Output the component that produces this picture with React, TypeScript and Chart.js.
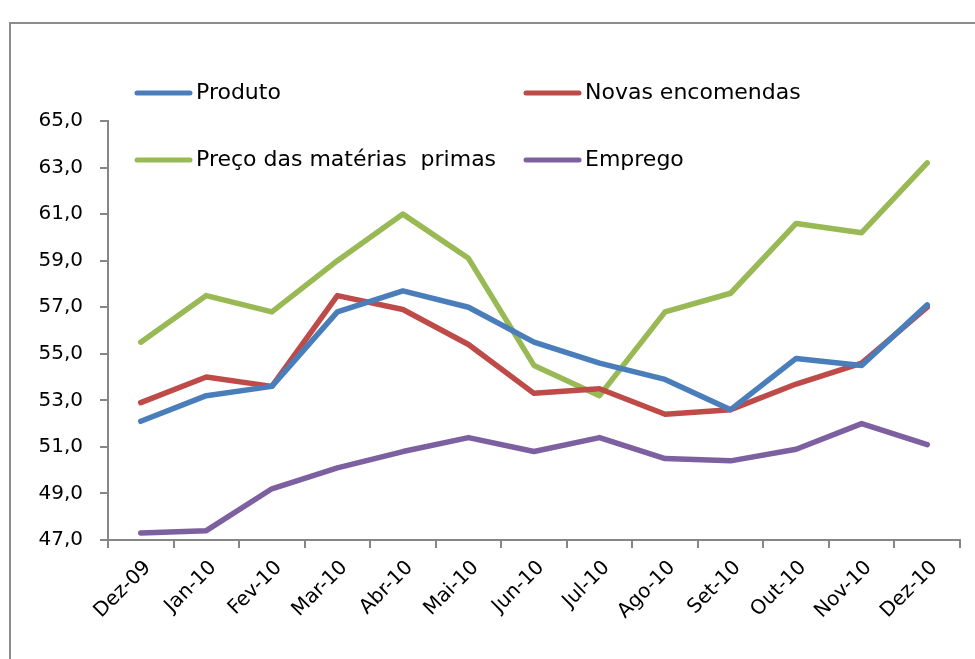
import React, { useEffect, useRef } from "react";
import { Chart, registerables } from "chart.js";

Chart.register(...registerables);

const categories = ["Dez-09", "Jan-10", "Fev-10", "Mar-10", "Abr-10", "Mai-10", "Jun-10", "Jul-10", "Ago-10", "Set-10", "Out-10", "Nov-10", "Dez-10"];
const produto = [52.1, 53.2, 53.6, 56.8, 57.7, 57.0, 55.5, 54.6, 53.9, 52.6, 54.8, 54.5, 57.1];
const novasEncomendas = [52.9, 54.0, 53.6, 57.5, 56.9, 55.4, 53.3, 53.5, 52.4, 52.6, 53.7, 54.6, 57.0];
const precoMaterias = [55.5, 57.5, 56.8, 59.0, 61.0, 59.1, 54.5, 53.2, 56.8, 57.6, 60.6, 60.2, 63.2];
const emprego = [47.3, 47.4, 49.2, 50.1, 50.8, 51.4, 50.8, 51.4, 50.5, 50.4, 50.9, 52.0, 51.1];
const seriesLabels = ["Produto", "Novas encomendas", "Preço das matérias  primas", "Emprego"];
const seriesColors = ["#4A7EBB", "#BE4B48", "#98B954", "#7D60A0"];
const yMin = 47;
const yMax = 65;
const yStep = 2;

const FONT = "'DejaVu Sans', sans-serif";

const framePlugin = {
  id: "frame",
  beforeDraw(chart: any) {
    const ctx = chart.ctx;
    ctx.save();
    ctx.fillStyle = "#ffffff";
    ctx.fillRect(0, 0, chart.width, chart.height);
    ctx.strokeStyle = "#8c8c8c";
    ctx.lineWidth = 2;
    ctx.beginPath();
    ctx.moveTo(10, chart.height + 5);
    ctx.lineTo(10, 23);
    ctx.lineTo(chart.width + 5, 23);
    ctx.stroke();
    ctx.restore();
  },
};

const legendPlugin = {
  id: "customLegend",
  afterDraw(chart: any) {
    const ctx = chart.ctx;
    const cols = [137, 526];
    const rows = [93, 160];
    ctx.save();
    chart.data.datasets.forEach((ds: any, i: number) => {
      const x = cols[i % 2];
      const y = rows[Math.floor(i / 2)];
      ctx.strokeStyle = ds.borderColor;
      ctx.lineWidth = 5;
      ctx.lineCap = "round";
      ctx.beginPath();
      ctx.moveTo(x, y);
      ctx.lineTo(x + 53, y);
      ctx.stroke();
      ctx.fillStyle = "#000000";
      ctx.font = `22px ${FONT}`;
      ctx.textAlign = "left";
      ctx.textBaseline = "middle";
      ctx.fillText(ds.label, x + 59, y);
    });
    ctx.restore();
  },
};

export default function App() {
  const ref = useRef<HTMLCanvasElement | null>(null);
  useEffect(() => {
    if (!ref.current) return;
    const chart = new Chart(ref.current, {
      type: "line",
      data: {
        labels: categories,
        datasets: [produto, novasEncomendas, precoMaterias, emprego].map((d, i) => ({
          label: seriesLabels[i],
          data: d,
          borderColor: seriesColors[i],
          backgroundColor: seriesColors[i],
          borderWidth: 5.5,
          pointRadius: 0,
          tension: 0,
          borderCapStyle: "round" as const,
          borderJoinStyle: "round" as const,
          fill: false,
        })),
      },
      options: {
        responsive: false,
        animation: false,
        layout: { padding: { top: 121, left: 0, right: 15, bottom: 0 } },
        plugins: { legend: { display: false }, tooltip: { enabled: false } },
        scales: {
          x: {
            offset: true,
            grid: { display: true, drawOnChartArea: false, tickLength: 8, color: "#868686", lineWidth: 2, offset: true },
            border: { display: true, color: "#868686", width: 2 },
            ticks: {
              color: "#000000",
              font: { family: FONT, size: 20 },
              maxRotation: 45,
              minRotation: 45,
              autoSkip: false,
              padding: 8,
              labelOffset: 7,
            },
            afterFit(scale: any) {
              scale.height = 119;
            },
          },
          y: {
            min: yMin,
            max: yMax,
            grid: { display: true, drawOnChartArea: false, tickLength: 8, color: "#868686", lineWidth: 2 },
            border: { display: true, color: "#868686", width: 2 },
            ticks: {
              stepSize: yStep,
              color: "#000000",
              padding: 17,
              font: { family: FONT, size: 20 },
              callback: (v: any) => Number(v).toFixed(1).replace(".", ","),
            },
            afterFit(scale: any) {
              scale.width = 108;
            },
          },
        },
      },
      plugins: [framePlugin, legendPlugin],
    });
    return () => chart.destroy();
  }, []);
  return (
    <div style={{ position: "fixed", left: 0, top: 0, width: 975, height: 659, background: "#fff" }}>
      <canvas ref={ref} width={975} height={659} style={{ display: "block" }} />
    </div>
  );
}
